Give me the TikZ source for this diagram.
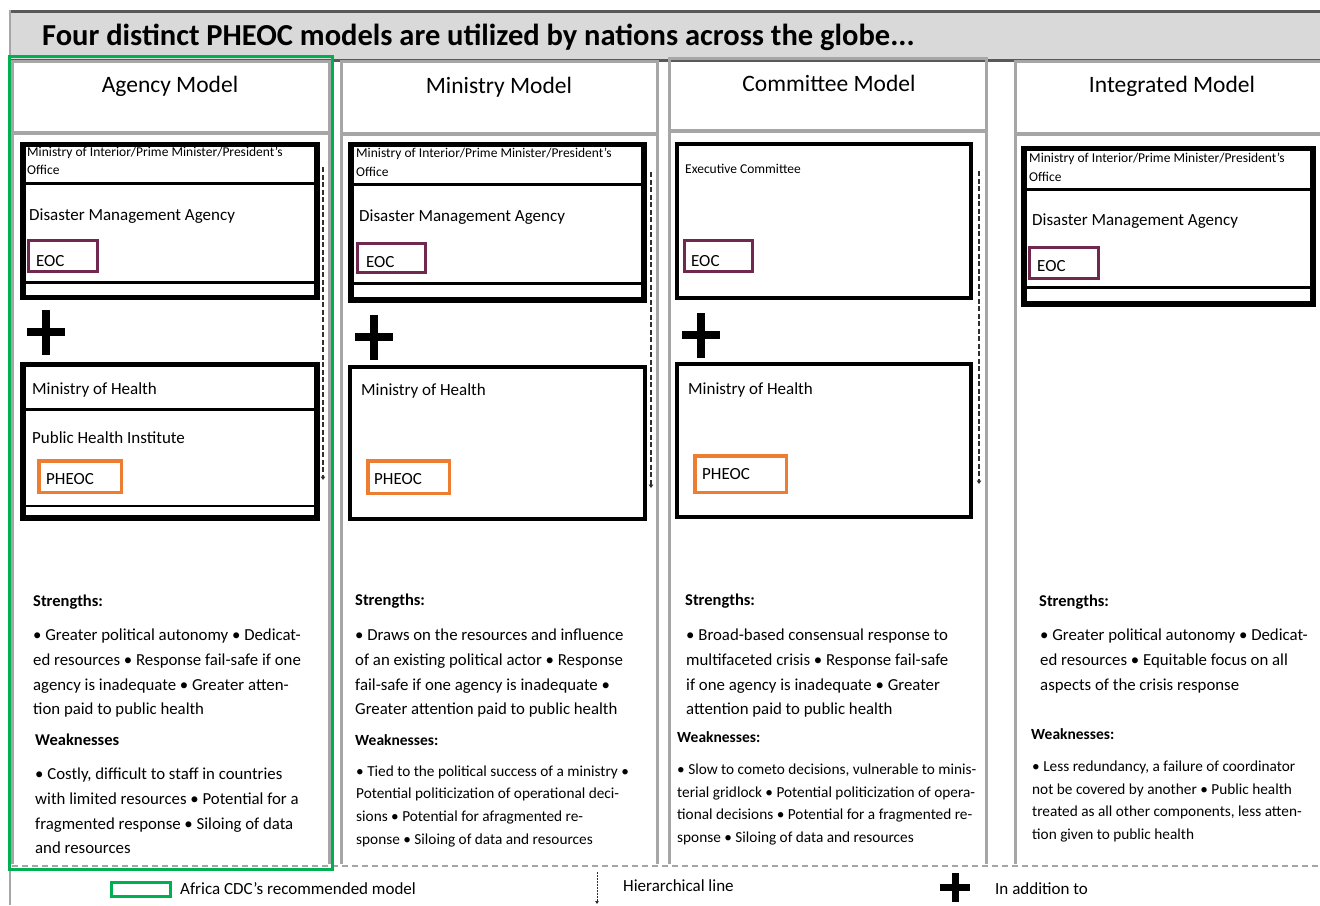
\documentclass[tikz,border=0pt]{standalone}
\usepackage{fontspec}
\setmainfont{Carlito}
\usetikzlibrary{arrows.meta}
\definecolor{eocc}{HTML}{70284E}
\definecolor{pheocc}{HTML}{ED7D31}
\definecolor{cdcgreen}{HTML}{00B050}
\definecolor{colgray}{HTML}{A6A6A6}
\definecolor{bargray}{HTML}{D9D9D9}
\definecolor{darkbar}{HTML}{595959}
\definecolor{hiercol}{HTML}{303030}
\newcommand\plusmark[5]{%
  \fill[black] ({#1-#3/2},{#2-#5/2}) rectangle ({#1+#3/2},{#2+#5/2});
  \fill[black] ({#1-#5/2},{#2-#4/2}) rectangle ({#1+#5/2},{#2+#4/2});}
\begin{document}
\begin{tikzpicture}[x=1pt,y=-1pt,
  body/.style={anchor=mid west,inner sep=0pt,yshift=-3.5pt,font=\fontsize{16.8}{19}\selectfont},
  bodyw/.style={anchor=mid west,inner sep=0pt,yshift=-3pt,font=\fontsize{15.3}{18}\selectfont},
  lbl/.style={anchor=mid west,inner sep=0pt,yshift=-4pt,font=\fontsize{17}{19}\selectfont},
  capslbl/.style={anchor=mid west,inner sep=0pt,yshift=-5.5pt,font=\fontsize{17}{19}\selectfont},
  smalllbl/.style={anchor=mid west,inner sep=0pt,yshift=-2.5pt,font=\fontsize{13.5}{16}\selectfont},
  headb/.style={anchor=mid west,inner sep=0pt,yshift=-3.5pt,font=\bfseries\fontsize{16.5}{19}\selectfont},
  headw/.style={anchor=mid west,inner sep=0pt,yshift=-3pt,font=\bfseries\fontsize{15.5}{18}\selectfont},
  colhead/.style={anchor=base,inner sep=0pt,font=\fontsize{23.5}{28}\selectfont},
  titletxt/.style={anchor=base west,inner sep=0pt,font=\bfseries\fontsize{30.5}{36}\selectfont},
  frame/.style={draw=colgray,line width=3pt},
  outerbox/.style={draw=black,line width=3.5pt},
  innerbox/.style={draw=black,line width=2.2pt},
  eocbox/.style={draw=eocc,line width=3pt},
  pheocbox/.style={draw=pheocc,line width=3.5pt},
  hier/.style={draw=hiercol,line width=2.2pt,dash pattern=on 5pt off 2.5pt,-{Triangle[width=4.5pt,length=3.5pt]}},
  legtxt/.style={anchor=mid west,inner sep=0pt,yshift=-3pt,font=\fontsize{17}{19}\selectfont}
]
\useasboundingbox (0,0) rectangle (1320,905);
\fill[white] (0,0) rectangle (1320,905);
% title bar
\fill[bargray] (10,11) rectangle (1320,60);
\draw[darkbar,line width=3pt] (10,11) -- (1320,11);
\draw[darkbar,line width=3pt] (10,60) -- (1320,60);
\draw[colgray,line width=2pt] (10,10) -- (10,905);
\node[titletxt] (title) at (42,45) {Four distinct PHEOC models are utilized by nations across the globe...};

% column frames
\draw[frame] (12,864) |- (329,61) -- (329,864);
\draw[frame,line width=4pt] (12,133) -- (329,133);
\draw[frame] (341,864) |- (657,61) -- (657,864);
\draw[frame,line width=4pt] (341,134) -- (657,134);
\draw[frame] (669,864) |- (986,58) -- (986,864);
\draw[frame,line width=4pt] (669,131) -- (986,131);
\draw[frame] (1015,864) |- (1322,61);
\draw[frame,line width=4pt] (1015,134) -- (1322,134);
\draw[colgray,line width=1.2pt,dash pattern=on 6pt off 4pt] (12,866) -- (1320,866);

% headers
\node[colhead] (h1) at (170,92) {Agency Model};
\node[colhead] (h2) at (499,93) {Ministry Model};
\node[colhead] (h3) at (829,91) {Committee Model};
\node[colhead] (h4) at (1172,92) {Integrated Model};

% ---------- column 1 ----------
\draw[outerbox] (21.75,143.75) rectangle (318.25,298.25);
\draw[innerbox] (24.5,145.5) rectangle (315.5,183.5);
\draw[innerbox] (24.5,183.5) rectangle (315.5,282.5);
\draw[innerbox] (24.5,282.5) -- (24.5,296) -- (315.5,296) -- (315.5,282.5);
\node[smalllbl] (a1) at (27,152) {Ministry of Interior/Prime Minister/President’s};
\node[smalllbl] (a2) at (27,170) {Office};
\node[lbl] (a3) at (29,214) {Disaster Management Agency};
\draw[eocbox] (28.5,240.5) rectangle (97.5,271.5);
\node[capslbl] (a4) at (36,258.5) {EOC};
\plusmark{46}{332}{38}{45}{8}
\draw[outerbox] (21.75,363.75) rectangle (318.25,519.25);
\draw[innerbox] (24.5,366) rectangle (315.5,409.5);
\draw[innerbox] (24.5,409.5) rectangle (315.5,506);
\draw[innerbox] (24.5,506) -- (24.5,516.5) -- (315.5,516.5) -- (315.5,506);
\node[lbl] (a5) at (32,388) {Ministry of Health};
\node[lbl] (a6) at (32,437) {Public Health Institute};
\draw[pheocbox] (38.75,460.75) rectangle (121.25,492.25);
\node[capslbl] (a7) at (46,476.5) {PHEOC};
\coordinate (h1s) at (323,167);
\coordinate (h1e) at (323,480);
\draw[hier] (h1s) -- (h1e);

\node[headb] (s1) at (33,601) {Strengths:};
\foreach \t [count=\i] in {{• Greater political autonomy • Dedicat-},{ed resources • Response fail-safe if one},{agency is inadequate • Greater atten-},{tion paid to public health}}
  \node[body] (s1l\i) at (33,{635+(\i-1)*24.7}) {\t};
\node[headb] (w1) at (35,740) {Weaknesses};
\foreach \t [count=\i] in {{• Costly, difficult to staff in countries},{with limited resources • Potential for a},{fragmented response • Siloing of data},{and resources}}
  \node[body] (w1l\i) at (35,{774+(\i-1)*24.7}) {\t};

% ---------- column 2 ----------
\draw[outerbox] (349.75,143.75) rectangle (645.25,301.25);
\draw[innerbox] (352.5,145.5) rectangle (642.5,184.5);
\draw[innerbox] (352.5,184.5) rectangle (642.5,283.5);
\draw[innerbox] (352.5,283.5) -- (352.5,298.5) -- (642.5,298.5) -- (642.5,283.5);
\node[smalllbl] (b1) at (356,153) {Ministry of Interior/Prime Minister/President’s};
\node[smalllbl] (b2) at (356,172) {Office};
\node[lbl] (b3) at (359,215) {Disaster Management Agency};
\draw[eocbox] (357.5,243.5) rectangle (425.5,272.5);
\node[capslbl] (b4) at (366,259.5) {EOC};
\plusmark{374}{337}{38}{45}{8}
\draw[outerbox,line width=4pt] (350,367) rectangle (645,519);
\node[lbl] (b5) at (361,389) {Ministry of Health};
\draw[pheocbox] (367.75,460.75) rectangle (449.25,493.25);
\node[capslbl] (b6) at (374,476.5) {PHEOC};
\coordinate (h2s) at (651,172);
\coordinate (h2e) at (651,488);
\draw[hier] (h2s) -- (h2e);

\node[headb] (s2) at (355,600) {Strengths:};
\foreach \t [count=\i] in {{• Draws on the resources and influence},{of an existing political actor • Response},{fail-safe if one agency is inadequate •},{Greater attention paid to public health}}
  \node[body] (s2l\i) at (355,{635+(\i-1)*24.7}) {\t};
\node[headw] (w2) at (355,740) {Weaknesses:};
\foreach \t [count=\i] in {{• Tied to the political success of a ministry •},{Potential politicization of operational deci-},{sions • Potential for afragmented re-},{sponse • Siloing of data and resources}}
  \node[bodyw] (w2l\i) at (356,{771+(\i-1)*22.6}) {\t};

% ---------- column 3 ----------
\draw[outerbox,line width=4pt] (677,144) rectangle (971,298);
\node[smalllbl] (c1) at (685,169) {Executive Committee};
\draw[eocbox] (684.5,240.5) rectangle (752.5,271.5);
\node[capslbl] (c2) at (691,258.5) {EOC};
\plusmark{701}{335}{38}{45}{8}
\draw[outerbox,line width=4pt] (677,364) rectangle (971,517);
\node[lbl] (c3) at (688,388) {Ministry of Health};
\draw[pheocbox] (694.75,455.75) rectangle (786.25,492.25);
\node[capslbl] (c4) at (702,472) {PHEOC};
\coordinate (h3s) at (979,171);
\coordinate (h3e) at (979,484);
\draw[hier] (h3s) -- (h3e);

\node[headb] (s3) at (685,600) {Strengths:};
\foreach \t [count=\i] in {{• Broad-based consensual response to},{multifaceted crisis • Response fail-safe},{if one agency is inadequate • Greater},{attention paid to public health}}
  \node[body] (s3l\i) at (686,{635+(\i-1)*24.7}) {\t};
\node[headw] (w3) at (677,737) {Weaknesses:};
\foreach \t [count=\i] in {{• Slow to cometo decisions, vulnerable to minis-},{terial gridlock • Potential politicization of opera-},{tional decisions • Potential for a fragmented re-},{sponse • Siloing of data and resources}}
  \node[bodyw] (w3l\i) at (677,{769+(\i-1)*22.7}) {\t};

% ---------- column 4 ----------
\draw[outerbox] (1022.75,147.75) rectangle (1314.25,305.25);
\draw[innerbox] (1025.5,149.5) rectangle (1311.5,189.5);
\draw[innerbox] (1025.5,189.5) rectangle (1311.5,287.5);
\draw[innerbox] (1025.5,287.5) -- (1025.5,302.5) -- (1311.5,302.5) -- (1311.5,287.5);
\node[smalllbl] (d1) at (1029,158) {Ministry of Interior/Prime Minister/President’s};
\node[smalllbl] (d2) at (1029,177) {Office};
\node[lbl] (d3) at (1032,219) {Disaster Management Agency};
\draw[eocbox] (1029.5,247.5) rectangle (1098.5,278.5);
\node[capslbl] (d4) at (1037,263.5) {EOC};

\node[headb] (s4) at (1039,601) {Strengths:};
\foreach \t [count=\i] in {{• Greater political autonomy • Dedicat-},{ed resources • Equitable focus on all},{aspects of the crisis response}}
  \node[body] (s4l\i) at (1040,{635+(\i-1)*24.7}) {\t};
\node[headw] (w4) at (1031,734) {Weaknesses:};
\foreach \t [count=\i] in {{• Less redundancy, a failure of coordinator},{not be covered by another • Public health},{treated as all other components, less atten-},{tion given to public health}}
  \node[bodyw] (w4l\i) at (1032,{766+(\i-1)*22.7}) {\t};

% recommended model outline
\draw[cdcgreen,line width=3pt] (9.5,56.5) rectangle (332.5,869.5);

% ---------- legend ----------
\draw[cdcgreen,line width=3pt] (111.5,882.5) rectangle (170.5,896.5);
\node[legtxt] (l1) at (180,889) {Africa CDC’s recommended model};
\coordinate (lhs) at (597,872);
\coordinate (lhe) at (597,904);
\draw[hiercol,line width=0.9pt,dash pattern=on 1.5pt off 1.5pt,-{Triangle[width=3.5pt,length=3pt]}] (lhs) -- (lhe);
\node[legtxt] (l2) at (623,886) {Hierarchical line};
\plusmark{955}{887}{30}{29}{7}
\node[legtxt] (l3) at (995,889) {In addition to};
\end{tikzpicture}
\end{document}
